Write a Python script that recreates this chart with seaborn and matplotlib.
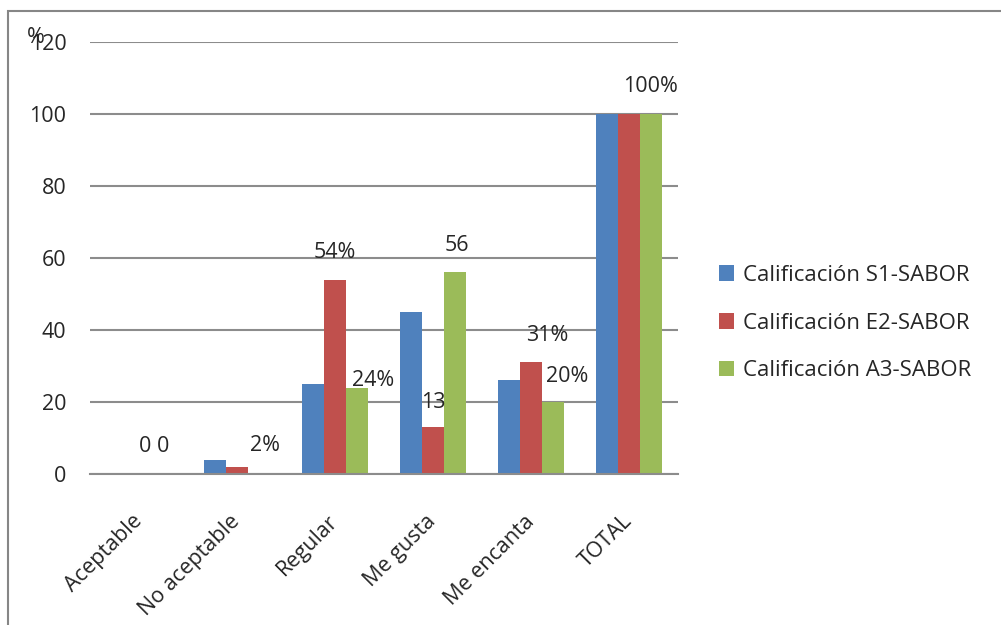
import numpy as np
import pandas as pd
import seaborn as sns
import matplotlib.pyplot as plt
from matplotlib.patches import Rectangle

categorias = ['Aceptable', 'No aceptable', 'Regular', 'Me gusta', 'Me encanta', 'TOTAL']
series = ['Calificación S1-SABOR', 'Calificación E2-SABOR', 'Calificación A3-SABOR']
s1 = [0, 4, 25, 45, 26, 100]
e2 = [0, 2, 54, 13, 31, 100]
a3 = [0, 0, 24, 56, 20, 100]
colores = ['#4F81BD', '#C0504D', '#9BBB59']

# etiquetas: (serie, categoria, texto)
etiquetas = [(1, 0, '0 0'), (1, 1, '2%'), (1, 2, '54%'), (2, 2, '24%'),
             (1, 3, '13'), (2, 3, '56'), (1, 4, '31%'), (2, 4, '20%'), (2, 5, '100%')]
# desplazamiento de cada etiqueta respecto a la barra (dx en categorias, dy en %)
desplaz = [(0.16, 7.5), (0.29, 6), (0.0, 7.4), (0.17, 2), (0.0, 7),
           (0.02, 7.6), (0.17, 7.6), (0.15, 7), (0.0, 7.5)]

df = pd.DataFrame({
    'categoria': categorias * 3,
    'serie': np.repeat(series, len(categorias)),
    'valor': s1 + e2 + a3,
})

sns.set_style('white')
plt.rcParams['font.family'] = ['Open Sans', 'DejaVu Sans']
fs = 15.5

fig = plt.figure(figsize=(10.01, 6.25), dpi=100)
ax = fig.add_axes([0.0899, 0.2416, 0.5874, 0.6912])

sns.barplot(data=df, x='categoria', y='valor', hue='serie', palette=colores,
            width=0.67, saturation=1, ax=ax, errorbar=None, linewidth=0)

ax.set_ylim(0, 120)
ax.set_xlim(-0.5, len(categorias) - 0.5)
ax.set_yticks(np.arange(0, 121, 20))
ax.yaxis.grid(True, color='#8c8c8c', linewidth=1.5)
ax.set_axisbelow(True)
for s in ['top', 'right', 'left']:
    ax.spines[s].set_visible(False)
ax.spines['bottom'].set_color('#8c8c8c')
ax.spines['bottom'].set_linewidth(1.5)

ax.tick_params(axis='y', length=7, color='#8c8c8c', width=1.5, labelsize=fs, pad=10)
ax.set_xticks(np.arange(-0.5, len(categorias)), minor=True)
ax.tick_params(axis='x', which='minor', length=7, color='#8c8c8c', width=1.5, direction='out')
ax.tick_params(axis='x', which='major', length=0, labelsize=fs, pad=32)
plt.setp(ax.get_xticklabels(), rotation=45, ha='right', va='center', rotation_mode='anchor')

ax.set_xlabel('')
ax.set_ylabel('%', rotation=0, fontsize=fs)
ax.yaxis.set_label_coords(-0.092, 0.985)

for (si, ci, txt), (dx, dy) in zip(etiquetas, desplaz):
    barra = ax.containers[si][ci]
    x = barra.get_x() + barra.get_width() / 2 + dx
    y = barra.get_height() + dy
    ax.text(x, y, txt, ha='center', va='center', fontsize=fs)

ax.legend(loc='center left', bbox_to_anchor=(0.698, 0.483), bbox_transform=fig.transFigure,
          frameon=False, fontsize=16, handlelength=0.7, handleheight=0.7,
          handletextpad=0.4, labelspacing=1.2)

fig.patches.append(Rectangle((8 / 1001, -0.1), 1.2, 1.1 - 11 / 625, transform=fig.transFigure,
                             fill=False, edgecolor='#868686', linewidth=1.5))

fig.savefig('out.png', dpi=100)
